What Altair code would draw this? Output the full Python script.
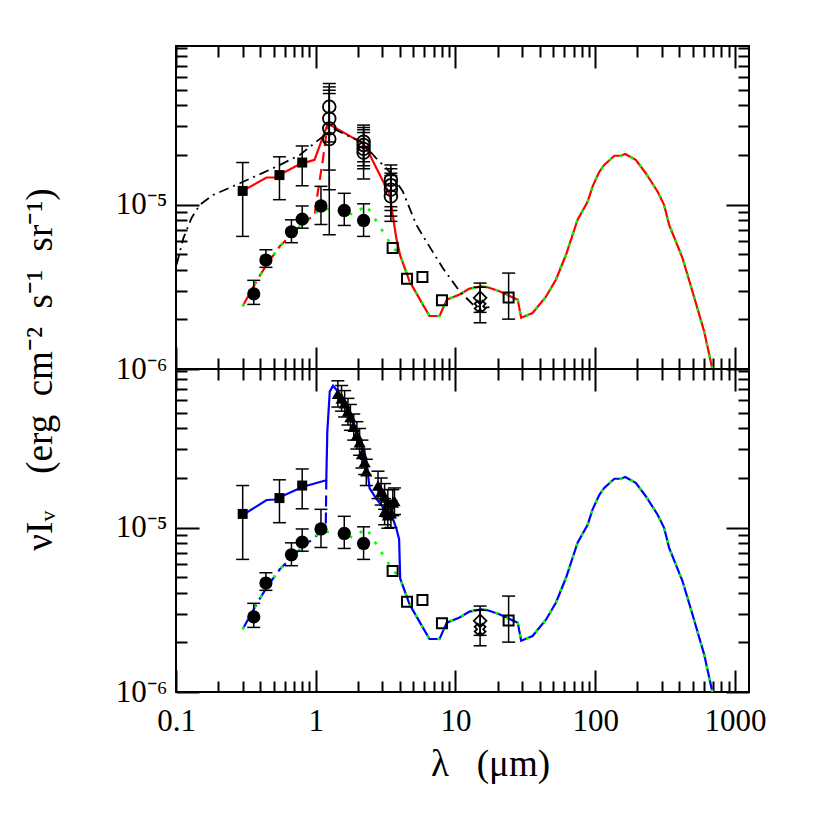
import altair as alt
import pandas as pd

# ---------------- data ----------------
# filled squares (both panels)
SQ_LAM = [0.30, 0.55, 0.80]
SQ_VAL = [1.21e-5, 1.51e-5, 1.80e-5]
SQ_HI = [1.80e-5, 1.95e-5, 2.27e-5]
SQ_LO = [6.4e-6, 1.07e-5, 1.30e-5]

# filled circles (both panels)
CI_LAM = [0.36, 0.44, 0.67, 0.80, 1.09, 1.60, 2.20]
CI_VAL = [2.86e-6, 4.6e-6, 6.83e-6, 8.15e-6, 9.8e-6, 9.2e-6, 8.0e-6]
CI_HI = [3.46e-6, 5.31e-6, 8.07e-6, 9.8e-6, 1.29e-5, 1.17e-5, 1.01e-5]
CI_LO = [2.47e-6, 4.15e-6, 5.86e-6, 7.18e-6, 7.56e-6, 7.46e-6, 6.4e-6]

# open circles (top panel)
OC_LAM = [1.25, 1.25, 1.25, 1.25, 2.2, 2.2, 2.2, 2.2, 3.45, 3.45, 3.45, 3.45]
OC_VAL = [3.93e-5, 3.33e-5, 2.90e-5, 2.50e-5, 2.41e-5, 2.30e-5, 2.18e-5, 2.07e-5,
          1.41e-5, 1.31e-5, 1.23e-5, 1.12e-5]
OC_HI = [5.44e-5, 5.19e-5, 4.95e-5, 4.73e-5, 3.04e-5, 2.94e-5, 2.85e-5, 2.74e-5,
         1.74e-5, 1.65e-5, 1.55e-5, 1.50e-5]
OC_LO = [2.40e-5, 1.62e-5, 1.23e-5, 6.55e-6, 1.82e-5, 1.72e-5, 1.65e-5, 1.43e-5,
         9.7e-6, 9.2e-6, 7.9e-6, 8.5e-6]

# triangles (bottom panel)
TR_LAM = [1.44, 1.53, 1.61, 1.70, 1.77, 1.87, 1.97, 2.06, 2.14, 2.24, 2.30, 2.79, 2.94,
          3.11, 3.28, 3.45, 3.56, 3.66, 3.11, 3.28]
TR_VAL = [6.5e-5, 6.1e-5, 5.7e-5, 5.1e-5, 4.7e-5, 4.1e-5, 3.65e-5, 3.3e-5, 2.8e-5, 2.5e-5,
          2.2e-5, 1.8e-5, 1.65e-5, 1.55e-5, 1.4e-5, 1.22e-5, 1.42e-5, 1.45e-5, 1.25e-5, 1.19e-5]
TR_HI = [7.8e-5, 7.3e-5, 6.8e-5, 6.1e-5, 5.6e-5, 4.9e-5, 4.4e-5, 4.0e-5, 3.4e-5, 3.0e-5,
         2.6e-5, 2.2e-5, 2.0e-5, 1.85e-5, 1.7e-5, 1.46e-5, 1.7e-5, 1.74e-5, 1.5e-5, 1.43e-5]
TR_LO = [5.4e-5, 5.1e-5, 4.7e-5, 4.2e-5, 3.9e-5, 3.4e-5, 3.0e-5, 2.75e-5, 2.3e-5, 2.1e-5,
         1.8e-5, 1.5e-5, 1.37e-5, 1.29e-5, 1.16e-5, 1.0e-5, 1.18e-5, 1.2e-5, 1.04e-5, 9.9e-6]

# open squares (both panels)
OS_LAM = [3.55, 4.5, 5.8, 8.0, 24.0]
OS_VAL = [5.44e-6, 3.54e-6, 3.63e-6, 2.62e-6, 2.72e-6]
OS_ERR_LAM = [24.0]
OS_HI = [3.83e-6]
OS_LO = [2.01e-6]

# 15 micron points
DM_LAM = [15.0]
DM_VAL = [2.71e-6]
DM_HI = [3.33e-6]
DM_LO = [2.21e-6]
CR_LAM = [15.0]
CR_VAL = [2.41e-6]
CR_HI = [3.14e-6]
CR_LO = [1.91e-6]

# model curves
DUST_LAM = [4.02, 4.69, 5.83, 6.51, 7.69, 8.67, 10.7, 12.6, 15.3, 17.0, 20.6, 27.9, 29.5,
            35.6, 44.4, 52.4, 61.8, 68.9, 74.8, 88.2, 95.8, 107, 116, 137, 153, 164, 195,
            230, 279, 311, 338, 421, 496, 601, 689]
DUST_VAL = [4.9e-6, 3.41e-6, 2.47e-6, 2.10e-6, 2.10e-6, 2.64e-6, 2.84e-6, 3.08e-6, 3.18e-6,
            3.14e-6, 2.97e-6, 2.64e-6, 2.05e-6, 2.19e-6, 2.75e-6, 3.5e-6, 4.95e-6, 6.55e-6,
            8.08e-6, 1.04e-5, 1.29e-5, 1.58e-5, 1.74e-5, 1.98e-5, 1.98e-5, 2.03e-5, 1.87e-5,
            1.55e-5, 1.2e-5, 9.96e-6, 7.53e-6, 4.73e-6, 2.97e-6, 1.70e-6, 1.0e-6]

TOPUP_LAM = [0.30, 0.445, 0.51, 0.77, 0.98, 1.22, 2.18, 2.37, 3.38, 3.77]
TOPUP_VAL = [1.21e-5, 1.46e-5, 1.46e-5, 1.76e-5, 1.87e-5, 3.11e-5, 2.35e-5, 2.10e-5, 1.15e-5, 6.25e-6]

BOTUP_LAM = [0.30, 0.445, 0.51, 0.81, 1.19, 1.21, 1.26, 1.33, 1.44, 1.57, 1.75, 1.95, 2.18,
             2.30, 2.43, 2.71, 3.2, 3.57, 3.77, 3.95]
BOTUP_VAL = [1.19e-5, 1.47e-5, 1.48e-5, 1.77e-5, 1.94e-5, 3.82e-5, 6.7e-5, 7.28e-5, 6.7e-5,
             5.82e-5, 4.83e-5, 3.82e-5, 3.10e-5, 2.57e-5, 1.73e-5, 1.50e-5, 1.25e-5, 1.13e-5,
             9.9e-6, 8.5e-6]

LOW_LAM = [0.30, 0.376, 0.445, 0.553, 0.67, 0.81, 0.984]
LOW_VAL = [2.41e-6, 3.41e-6, 4.31e-6, 5.57e-6, 6.55e-6, 7.7e-6, 8.66e-6]
TOPLOW_LAM = [1.01, 1.12, 1.22]
TOPLOW_VAL = [1.04e-5, 1.83e-5, 3.11e-5]
BOTLOW_LAM = [1.18, 1.19]
BOTLOW_VAL = [1.05e-5, 1.94e-5]

GREEN_LAM = [1.05, 1.3, 1.85, 2.3, 3.56]
GREEN_VAL = [9.4e-6, 9.4e-6, 8.7e-6, 9.9e-6, 5.5e-6]

DASHDOT_LAM = [0.101, 0.113, 0.129, 0.148, 0.185, 0.286, 0.524, 0.769, 1.01, 1.33, 1.66,
               2.12, 2.71, 3.38, 4.2, 5.24, 6.18, 8.11, 10.7, 13.3, 15.7, 17.5]
DASHDOT_VAL = [4.31e-6, 6.25e-6, 8.26e-6, 9.96e-6, 1.145e-5, 1.346e-5, 1.70e-5, 2.0e-5,
               2.41e-5, 2.90e-5, 2.64e-5, 2.41e-5, 1.91e-5, 1.58e-5, 1.2e-5, 7.53e-6,
               5.97e-6, 4.11e-6, 2.97e-6, 2.47e-6, 2.35e-6, 2.38e-6]

X_MAJOR = [0.1, 1, 10, 100, 1000]
X_MINOR = [0.2, 0.3, 0.4, 0.5, 0.6, 0.7, 0.8, 0.9, 2, 3, 4, 5, 6, 7, 8, 9,
           20, 30, 40, 50, 60, 70, 80, 90, 200, 300, 400, 500, 600, 700, 800, 900]
Y_MAJOR = [1e-6, 1e-5]
Y_MINOR = [2e-6, 3e-6, 4e-6, 5e-6, 6e-6, 7e-6, 8e-6, 9e-6,
           2e-5, 3e-5, 4e-5, 5e-5, 6e-5, 7e-5, 8e-5, 9e-5]

X_TITLE = "λ\u2002 (μm)"
Y_TITLE = "νIᵥ\u2002\u2002(erg\u2002cm⁻²\u2002s⁻¹\u2002sr⁻¹)"

# ---------------- chart ----------------
W, H = 573, 323
FONT = "Liberation Serif"
xs = alt.Scale(type="log", domain=[0.1, 1260], nice=False)
ys = alt.Scale(type="log", domain=[1e-6, 9.2e-5], nice=False)


def enc(ch, ycol="v"):
    return ch.encode(x=alt.X("lam:Q", scale=xs, axis=None),
                     y=alt.Y(f"{ycol}:Q", scale=ys, axis=None))


def line(lams, vals, color, dash=None, width=2.2):
    df = pd.DataFrame({"lam": lams, "v": vals, "i": list(range(len(lams)))})
    kw = dict(color=color, strokeWidth=width, clip=True)
    if dash:
        kw["strokeDash"] = dash
    return alt.Chart(df).mark_line(**kw).encode(
        x=alt.X("lam:Q", scale=xs, axis=None),
        y=alt.Y("v:Q", scale=ys, axis=None),
        order="i:Q")


def errbars(lams, lo, hi):
    df = pd.DataFrame({"lam": lams, "lo": lo, "hi": hi})
    rule = alt.Chart(df).mark_rule(color="black", strokeWidth=1.5).encode(
        x=alt.X("lam:Q", scale=xs, axis=None),
        y=alt.Y("lo:Q", scale=ys, axis=None), y2="hi:Q")
    caps = pd.DataFrame({"lam": list(lams) + list(lams), "v": list(lo) + list(hi)})
    tick = enc(alt.Chart(caps).mark_tick(orient="horizontal", size=13, thickness=1.5,
                                         color="black", opacity=1))
    return [rule, tick]


def pts(lams, vals, **mk):
    df = pd.DataFrame({"lam": lams, "v": vals})
    return enc(alt.Chart(df).mark_point(opacity=1, color="black", **mk))


DUMMY = pd.DataFrame({"lam": [1.0], "v": [1e-5]})


def ax(orient, values, size, labels=False, **kw):
    return alt.Axis(orient=orient, values=values, tickSize=size, offset=-size,
                    domain=False, grid=False, labels=labels, ticks=True,
                    tickColor="black", tickWidth=2, **kw)


def axis_layer(xa, ya):
    return alt.Chart(DUMMY).mark_point(opacity=0).encode(
        x=alt.X("lam:Q", scale=xs, axis=xa),
        y=alt.Y("v:Q", scale=ys, axis=ya))


def panel(top):
    layers = []
    low = LOW_LAM + (TOPLOW_LAM if top else BOTLOW_LAM)
    lowv = LOW_VAL + (TOPLOW_VAL if top else BOTLOW_VAL)
    col = "#ff0000" if top else "#0000ff"
    if top:
        up = TOPUP_LAM + DUST_LAM
        upv = TOPUP_VAL + DUST_VAL
    else:
        up = BOTUP_LAM + DUST_LAM
        upv = BOTUP_VAL + DUST_VAL
    layers.append(line(low, lowv, col, dash=[11, 6]))
    layers.append(line(up, upv, col))
    layers.append(line(LOW_LAM + GREEN_LAM + DUST_LAM, LOW_VAL + GREEN_VAL + DUST_VAL,
                       "#00ff00", dash=[3, 9], width=2.6))
    if top:
        layers.append(line(DASHDOT_LAM, DASHDOT_VAL, "black", dash=[10, 5, 2, 5], width=1.8))
    # error bars
    layers += errbars(SQ_LAM, SQ_LO, SQ_HI)
    layers += errbars(CI_LAM, CI_LO, CI_HI)
    layers += errbars(OS_ERR_LAM, OS_LO, OS_HI)
    layers += errbars(DM_LAM, DM_LO, DM_HI)
    layers += errbars(CR_LAM, CR_LO, CR_HI)
    if top:
        layers += errbars(OC_LAM, OC_LO, OC_HI)
    else:
        layers += errbars(TR_LAM, TR_LO, TR_HI)
    # markers
    layers.append(pts(SQ_LAM, SQ_VAL, shape="square", filled=True, size=100))
    layers.append(pts(CI_LAM, CI_VAL, shape="circle", filled=True, size=175))
    layers.append(pts(OS_LAM, OS_VAL, shape="square", filled=False, size=100, strokeWidth=2))
    layers.append(pts(DM_LAM, DM_VAL, shape="diamond", filled=False, size=160, strokeWidth=1.8))
    layers.append(pts(CR_LAM, CR_VAL, shape="cross", filled=False, size=120, strokeWidth=1.8,
                      angle=45))
    if top:
        layers.append(pts(OC_LAM, OC_VAL, shape="circle", filled=False, size=160, strokeWidth=1.8))
    else:
        layers.append(pts(TR_LAM, TR_VAL, shape="triangle-up", filled=True, size=150))
    # axes
    if top:
        ytitle = dict(title=Y_TITLE, titleX=-159, titleY=H, titleAngle=270,
                      titleAlign="center", titleBaseline="middle", titleFontSize=37)
        xtitle = dict(title=None)
    else:
        ytitle = dict(title=None)
        xtitle = dict(title=X_TITLE, titlePadding=10, titleFontSize=37, titleX=314,
                      titleAlign="center")
    layers.append(axis_layer(
        ax("bottom", X_MAJOR, 22, labels=not top, format="~g", labelFlush=False,
           labelPadding=14, labelOverlap=False, **xtitle),
        ax("left", Y_MAJOR, 23, labels=True, labelFlush=False, labelPadding=9,
           labelOverlap=False,
           labelExpr="datum.value < 3e-6 ? '10⁻⁶' : '10⁻⁵'", **ytitle)))
    layers.append(axis_layer(ax("bottom", X_MINOR, 11, title=None),
                             ax("left", Y_MINOR, 11, title=None)))
    layers.append(axis_layer(ax("top", X_MAJOR, 22, title=None),
                             ax("right", Y_MAJOR, 23, title=None)))
    layers.append(axis_layer(ax("top", X_MINOR, 11, title=None),
                             ax("right", Y_MINOR, 11, title=None)))
    return alt.layer(*layers).resolve_axis(x="independent", y="independent").properties(
        width=W, height=H)


chart = alt.vconcat(panel(True), panel(False), spacing=0, bounds="flush").properties(
    padding={"left": 12, "top": 36, "right": 10, "bottom": 10}
).configure_view(stroke="black", strokeWidth=2).configure_axis(
    labelFont=FONT, labelFontSize=31, labelColor="black",
    titleFont=FONT, titleFontSize=31, titleFontWeight="normal", titleColor="black")

chart.save("out.html", embed_options={"renderer": "svg", "actions": False})
